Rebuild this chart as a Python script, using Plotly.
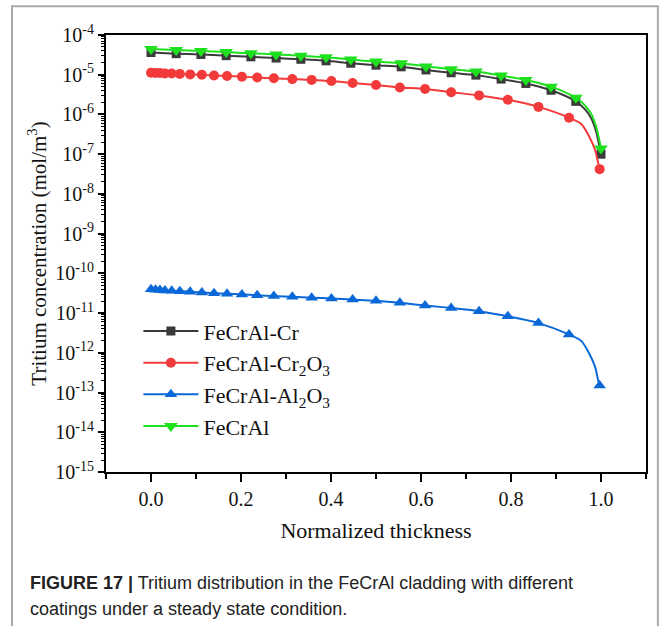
import plotly.graph_objects as go

# ---------------- data ----------------
# marker positions
x_k18 = [0.0, 0.056, 0.111, 0.167, 0.222, 0.278, 0.333, 0.389, 0.444, 0.5,
         0.556, 0.611, 0.667, 0.722, 0.778, 0.833, 0.889, 0.944, 1.0]
y_fecral = [4.47e-5, 4.17e-5, 3.98e-5, 3.72e-5, 3.47e-5, 3.24e-5, 3.02e-5, 2.75e-5,
            2.40e-5, 2.14e-5, 1.95e-5, 1.62e-5, 1.38e-5, 1.20e-5, 9.55e-6, 7.41e-6,
            5.01e-6, 2.63e-6, 1.38e-7]
y_fecral_cr = [3.63e-5, 3.39e-5, 3.24e-5, 3.02e-5, 2.82e-5, 2.63e-5, 2.45e-5, 2.24e-5,
               1.95e-5, 1.74e-5, 1.58e-5, 1.32e-5, 1.12e-5, 9.77e-6, 7.76e-6, 6.03e-6,
               4.07e-6, 2.14e-6, 1.0e-7]

x_var = [0.0, 0.01, 0.02, 0.031, 0.046, 0.064, 0.087, 0.113, 0.14, 0.169, 0.202,
         0.236, 0.273, 0.314, 0.357, 0.401, 0.448, 0.5, 0.553, 0.609, 0.667, 0.729,
         0.793, 0.861, 0.929, 0.997]
y_cr2o3 = [1.12e-5, 1.11e-5, 1.10e-5, 1.08e-5, 1.07e-5, 1.05e-5, 1.02e-5, 1.00e-5,
           9.55e-6, 9.33e-6, 8.91e-6, 8.51e-6, 8.13e-6, 7.76e-6, 7.41e-6, 6.92e-6,
           6.17e-6, 5.50e-6, 4.79e-6, 4.37e-6, 3.63e-6, 3.02e-6, 2.34e-6, 1.55e-6,
           8.3e-7, 4.2e-8]
y_al2o3 = [3.98e-11, 3.89e-11, 3.80e-11, 3.72e-11, 3.63e-11, 3.55e-11, 3.47e-11,
           3.31e-11, 3.16e-11, 3.09e-11, 2.95e-11, 2.82e-11, 2.69e-11, 2.57e-11,
           2.45e-11, 2.34e-11, 2.19e-11, 2.04e-11, 1.82e-11, 1.55e-11, 1.35e-11,
           1.12e-11, 8.3e-12, 5.6e-12, 2.9e-12, 1.5e-13]

# extra curve points (no marker) read along the steep tail of each line
x_tail_k18 = [0.965, 0.978, 0.989, 0.995]
y_tail_fecral = [1.66e-6, 1.05e-6, 5.0e-7, 2.63e-7]
y_tail_fecral_cr = [1.32e-6, 8.1e-7, 3.8e-7, 1.9e-7]
x_tail_var = [0.956, 0.974, 0.987, 0.993]
y_tail_cr2o3 = [5.75e-7, 2.75e-7, 1.26e-7, 6.5e-8]
y_tail_al2o3 = [2.0e-12, 9.5e-13, 4.4e-13, 2.2e-13]

y_tickvals = [1e-4, 1e-5, 1e-6, 1e-7, 1e-8, 1e-9, 1e-10, 1e-11, 1e-12, 1e-13, 1e-14, 1e-15]
y_ticktext = ["10<sup>-%d</sup>" % n for n in range(4, 16)]
x_tickvals = [0.0, 0.2, 0.4, 0.6, 0.8, 1.0]
x_ticktext = ["0.0", "0.2", "0.4", "0.6", "0.8", "1.0"]

SERIF = "Liberation Serif, Times New Roman, serif"
SANS = "Liberation Sans, Arial, sans-serif"

fig = go.Figure()

series = [
    ("FeCrAl-Cr", x_k18, y_fecral_cr, x_tail_k18, y_tail_fecral_cr, "#3a3a3a", "square", 9),
    ("FeCrAl-Cr<sub>2</sub>O<sub>3</sub>", x_var, y_cr2o3, x_tail_var, y_tail_cr2o3, "#f23a3a", "circle", 10),
    ("FeCrAl-Al<sub>2</sub>O<sub>3</sub>", x_var, y_al2o3, x_tail_var, y_tail_al2o3, "#0a68d8", "triangle-up", 11),
    ("FeCrAl", x_k18, y_fecral, x_tail_k18, y_tail_fecral, "#1ee01e", "triangle-down", 12),
]
for i, (name, xs, ys, xt, yt, col, sym, sz) in enumerate(series):
    pts = sorted([(a, b, True) for a, b in zip(xs, ys)] +
                 [(a, b, False) for a, b in zip(xt, yt)], key=lambda p: p[0])
    fig.add_trace(go.Scatter(
        x=[p[0] for p in pts], y=[p[1] for p in pts], name=name, mode="lines+markers",
        line=dict(color=col, width=2, shape="spline", smoothing=0.8),
        marker=dict(color=[col if p[2] else "rgba(0,0,0,0)" for p in pts],
                    symbol=sym, size=sz, line=dict(width=0)),
        legendgroup="g%d" % i,
    ))

fig.update_layout(
    width=664, height=626,
    margin=dict(l=106, r=18, t=35, b=154),
    paper_bgcolor="white", plot_bgcolor="white",
    showlegend=True,
    legend=dict(x=0.06, y=0.37, xanchor="left", yanchor="top",
                font=dict(family=SERIF, size=22, color="#111"),
                bgcolor="rgba(0,0,0,0)", tracegroupgap=0,
                itemwidth=55),
    font=dict(family=SERIF, color="black"),
)

fig.update_xaxes(
    range=[-0.1, 1.1], showgrid=False, zeroline=False,
    showline=True, linecolor="black", linewidth=2, mirror=True,
    ticks="outside", ticklen=8, tickwidth=1.5, tickcolor="black",
    tickvals=x_tickvals, ticktext=x_ticktext,
    tickfont=dict(family=SERIF, size=20, color="#111"),
    minor=dict(ticks="outside", ticklen=5, tickwidth=1.5, tickcolor="black",
               dtick=0.1, tick0=-0.1, showgrid=False),
    title=dict(text="Normalized thickness", font=dict(family=SERIF, size=22, color="#111"),
               standoff=14),
)
fig.update_yaxes(
    type="log", range=[-15, -4], showgrid=False, zeroline=False,
    showline=True, linecolor="black", linewidth=2, mirror=True,
    ticks="outside", ticklen=6, tickwidth=1.5, tickcolor="black",
    tickvals=y_tickvals, ticktext=y_ticktext,
    tickfont=dict(family=SERIF, size=20, color="#111"),
    minor=dict(ticks="outside", ticklen=3, tickwidth=1, tickcolor="black",
               dtick="D1", showgrid=False),
    title=dict(text="Tritium concentration (mol/m<sup>3</sup>)",
               font=dict(family=SERIF, size=21, color="#111"), standoff=3),
)

# outer frame of the figure panel
fig.add_shape(type="rect", xref="paper", yref="paper",
              x0=-0.174, x1=1.022, y0=-0.37, y1=1.066,
              line=dict(color="#a8a8a8", width=2), layer="below")

# caption
fig.add_annotation(xref="paper", yref="paper", x=-0.1444, y=-0.254,
                   xanchor="left", yanchor="middle", showarrow=False,
                   text="<b>FIGURE 17 |</b> Tritium distribution in the FeCrAl cladding with different",
                   font=dict(family=SANS, size=18, color="#222"))
fig.add_annotation(xref="paper", yref="paper", x=-0.1444, y=-0.3135,
                   xanchor="left", yanchor="middle", showarrow=False,
                   text="coatings under a steady state condition.",
                   font=dict(family=SANS, size=18, color="#222"))

fig.write_html("out.html")
